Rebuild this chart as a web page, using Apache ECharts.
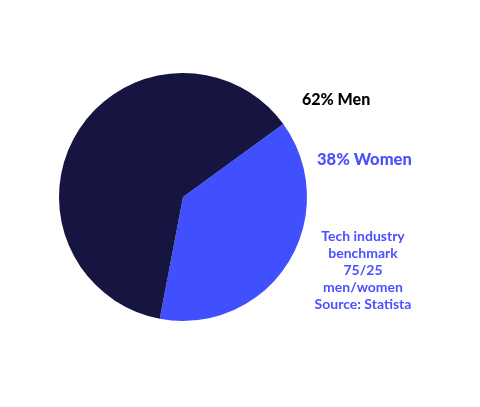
<!DOCTYPE html>
<html>
<head>
<meta charset="utf-8">
<script src="https://cdn.jsdelivr.net/npm/echarts@6/dist/echarts.min.js"></script>
<style>html,body{margin:0;padding:0;background:#fff;}#c{width:480px;height:407px;}</style>
</head>
<body>
<div id="c"></div>
<script>
var categories = ['Women', 'Men'];
var values = [38, 62];
var colors = ['#4150FF', '#161440'];
var noteLines = ['Tech industry', 'benchmark', '75/25', 'men/women', 'Source: Statista'];

var chart = echarts.init(document.getElementById('c'), null, {renderer: 'canvas'});
var font = 'Lato, "Open Sans", sans-serif';
chart.setOption({
  animation: false,
  backgroundColor: '#fff',
  series: [{
    type: 'pie',
    center: [183, 197],
    radius: 124,
    startAngle: 36,
    clockwise: true,
    label: {show: false},
    labelLine: {show: false},
    emphasis: {disabled: true},
    data: categories.map(function (c, i) {
      return {name: c, value: values[i], itemStyle: {color: colors[i]}};
    })
  }],
  graphic: [
    {type: 'text', left: 302, top: 92, style: {text: values[1] + '% ' + categories[1], font: '900 16px ' + font, fill: '#000'}},
    {type: 'text', left: 317, top: 151, style: {text: values[0] + '% ' + categories[0], font: '900 16.5px ' + font, fill: '#4A50FF'}},
    {type: 'text', x: 363, y: 228, style: {text: noteLines.join('\n'), font: 'bold 14px ' + font, lineHeight: 17, fill: '#4A50FF', align: 'center', verticalAlign: 'top'}}
  ]
});
</script>
</body>
</html>
